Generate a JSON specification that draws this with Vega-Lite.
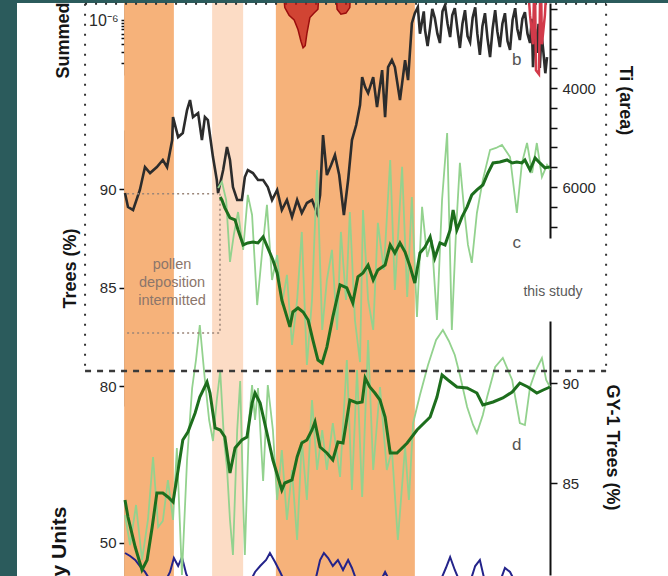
{
  "$schema": "https://vega.github.io/schema/vega-lite/v6.json",
  "width": 651,
  "height": 573,
  "autosize": "none",
  "padding": {"left": 17, "top": 3, "right": 0, "bottom": 0},
  "background": "#2b5b5c",
  "config": {
    "view": {"fill": "white", "stroke": null},
    "font": "Liberation Sans",
    "axis": {"zindex": 1, "grid": false, "domainColor": "#111111", "domainWidth": 2, "tickColor": "#111111", "tickWidth": 1.5, "labelFontSize": 15, "labelColor": "#2a2a2a", "labelOverlap": false, "labelFlush": false, "labelBound": false, "titleFontSize": 18, "titleFontWeight": "bold", "titleColor": "#151515", "titleBaseline": "middle"}
  },
  "datasets": {
    "bands": [
      {"t": -0.2, "t2": 11.5, "zone": "main"},
      {"t": 20.5, "t2": 27.8, "zone": "faint"},
      {"t": 35.5, "t2": 68.2, "zone": "main"}
    ],
    "ti": [
      {"t":0.0,"v":6121},{"t":0.7,"v":6404},{"t":1.9,"v":6464},{"t":3.5,"v":6060},{"t":4.7,"v":5596},{"t":5.9,"v":5717},{"t":7.5,"v":5596},{"t":8.9,"v":5454},{"t":9.9,"v":5596},{"t":11.1,"v":5050},{"t":11.3,"v":4586},{"t":12.5,"v":4990},{"t":13.6,"v":4909},{"t":14.6,"v":4444},{"t":15.3,"v":4242},{"t":16.0,"v":4586},{"t":17.2,"v":4505},{"t":18.1,"v":5050},{"t":18.8,"v":4586},{"t":19.5,"v":4646},{"t":20.7,"v":5394},{"t":21.6,"v":5858},{"t":21.9,"v":6121},{"t":23.1,"v":5656},{"t":24.0,"v":5192},{"t":24.7,"v":5454},{"t":25.4,"v":6000},{"t":26.4,"v":6262},{"t":27.5,"v":6262},{"t":28.2,"v":5798},{"t":28.9,"v":5656},{"t":30.1,"v":5717},{"t":31.3,"v":5858},{"t":32.5,"v":5858},{"t":33.6,"v":6000},{"t":34.6,"v":6262},{"t":35.8,"v":6060},{"t":36.9,"v":6464},{"t":38.1,"v":6262},{"t":39.3,"v":6606},{"t":40.5,"v":6262},{"t":41.6,"v":6525},{"t":42.8,"v":6323},{"t":44.0,"v":6262},{"t":45.2,"v":6525},{"t":45.9,"v":6161},{"t":46.6,"v":4949},{"t":47.5,"v":5757},{"t":48.5,"v":5555},{"t":49.4,"v":5353},{"t":50.4,"v":5757},{"t":51.5,"v":6565},{"t":52.5,"v":5858},{"t":53.4,"v":5050},{"t":54.4,"v":4747},{"t":55.3,"v":4343},{"t":55.8,"v":3778},{"t":56.5,"v":3980},{"t":57.2,"v":4101},{"t":58.4,"v":3778},{"t":59.3,"v":4384},{"t":60.5,"v":3636},{"t":61.2,"v":4586},{"t":61.9,"v":3576},{"t":62.8,"v":3434},{"t":63.5,"v":3576},{"t":64.7,"v":4242},{"t":65.9,"v":3434},{"t":66.6,"v":3838},{"t":67.5,"v":2687},{"t":68.2,"v":2485},
      {"t":68.9,"v":2364},{"t":69.4,"v":2900},{"t":69.9,"v":2650},{"t":70.3,"v":2450},{"t":70.6,"v":2826},{"t":71.2,"v":3150},{"t":71.8,"v":2770},{"t":72.3,"v":2400},{"t":72.9,"v":2585},{"t":73.5,"v":2900},{"t":74.1,"v":3089},{"t":74.7,"v":2450},{"t":75.3,"v":2324},{"t":75.9,"v":2700},{"t":76.5,"v":2968},{"t":77.0,"v":2530},{"t":77.6,"v":2385},{"t":78.2,"v":2800},{"t":78.8,"v":3189},{"t":79.4,"v":2700},{"t":80.0,"v":2426},{"t":80.6,"v":2950},{"t":81.2,"v":3070},{"t":81.8,"v":2580},{"t":82.4,"v":2366},{"t":82.9,"v":2900},{"t":83.5,"v":3330},{"t":84.1,"v":2750},{"t":84.7,"v":2487},{"t":85.3,"v":3000},{"t":85.9,"v":3372},{"t":86.5,"v":2800},{"t":87.1,"v":2426},{"t":87.6,"v":2850},{"t":88.2,"v":3170},{"t":88.8,"v":2700},{"t":89.4,"v":2487},{"t":90.0,"v":3050},{"t":90.6,"v":3230},{"t":91.2,"v":2620},{"t":91.8,"v":2385},{"t":92.3,"v":2800},{"t":92.9,"v":3028},{"t":93.5,"v":2600},{"t":94.1,"v":2466},{"t":94.7,"v":2900},{"t":95.3,"v":3089},{"t":95.7,"v":2600},{"t":96.0,"v":3576},{"t":96.5,"v":2800},{"t":96.9,"v":3291},{"t":97.3,"v":2700},{"t":97.6,"v":3595},{"t":98.0,"v":2900},{"t":98.4,"v":3230},{"t":98.9,"v":3700},{"t":99.3,"v":3374}
    ],
    "treesC": [
      {"t":22.4,"v":89.60},{"t":22.8,"v":89.45},{"t":23.5,"v":89.05},{"t":24.7,"v":88.54},{"t":25.9,"v":88.44},{"t":26.6,"v":87.93},{"t":27.8,"v":87.17},{"t":28.9,"v":87.27},{"t":30.1,"v":87.32},{"t":31.3,"v":87.27},{"t":32.5,"v":87.58},{"t":33.6,"v":87.02},{"t":34.8,"v":86.41},{"t":35.8,"v":85.75},{"t":36.9,"v":84.38},{"t":38.1,"v":83.52},{"t":38.8,"v":83.01},{"t":39.5,"v":83.77},{"t":40.7,"v":83.97},{"t":41.9,"v":83.77},{"t":43.1,"v":83.36},{"t":44.2,"v":82.35},{"t":45.4,"v":81.33},{"t":46.4,"v":81.18},{"t":47.5,"v":81.99},{"t":48.9,"v":83.52},{"t":50.6,"v":85.14},{"t":52.2,"v":84.99},{"t":53.6,"v":84.23},{"t":54.8,"v":85.55},{"t":56.0,"v":85.75},{"t":57.2,"v":86.15},{"t":58.4,"v":85.39},{"t":59.5,"v":85.90},{"t":61.2,"v":86.15},{"t":62.4,"v":87.17},{"t":63.5,"v":86.76},{"t":64.7,"v":87.27},{"t":65.9,"v":86.81},{"t":67.1,"v":86.05},{"t":68.2,"v":85.24},{"t":69.4,"v":86.76},{"t":70.6,"v":87.07},{"t":71.8,"v":87.58},{"t":72.9,"v":86.51},{"t":74.1,"v":87.27},{"t":75.3,"v":87.17},{"t":76.5,"v":87.93},{"t":77.2,"v":88.94},{"t":78.1,"v":87.93},{"t":79.3,"v":88.59},{"t":80.5,"v":89.10},{"t":81.6,"v":89.71},{"t":82.8,"v":89.96},{"t":84.2,"v":90.21},{"t":85.4,"v":90.82},{"t":86.6,"v":91.33},{"t":88.2,"v":91.38},{"t":89.9,"v":91.48},{"t":91.1,"v":91.33},{"t":92.2,"v":91.38},{"t":93.4,"v":91.33},{"t":94.1,"v":91.48},{"t":95.3,"v":90.97},{"t":96.5,"v":91.58},{"t":97.6,"v":91.33},{"t":98.8,"v":91.08},{"t":100.0,"v":91.13}
    ],
    "treesCraw": [
      {"t":21.9,"v":90.06},{"t":22.8,"v":90.37},{"t":23.8,"v":89.45},{"t":24.7,"v":86.31},{"t":25.6,"v":87.68},{"t":26.6,"v":88.84},{"t":27.8,"v":86.92},{"t":28.9,"v":89.71},{"t":29.9,"v":88.69},{"t":31.1,"v":84.12},{"t":32.2,"v":86.66},{"t":33.4,"v":89.20},{"t":34.6,"v":85.39},{"t":35.8,"v":86.66},{"t":36.9,"v":84.12},{"t":38.1,"v":85.65},{"t":39.3,"v":82.10},{"t":40.5,"v":84.38},{"t":41.6,"v":87.83},{"t":42.8,"v":81.08},{"t":44.0,"v":84.38},{"t":45.2,"v":90.97},{"t":46.4,"v":82.86},{"t":47.5,"v":85.39},{"t":48.7,"v":86.92},{"t":49.9,"v":82.86},{"t":50.8,"v":87.83},{"t":52.0,"v":84.38},{"t":52.9,"v":88.84},{"t":54.1,"v":83.36},{"t":55.3,"v":81.23},{"t":56.0,"v":88.94},{"t":57.2,"v":84.38},{"t":58.4,"v":82.86},{"t":59.5,"v":88.29},{"t":60.9,"v":85.90},{"t":62.4,"v":91.48},{"t":63.5,"v":84.89},{"t":65.2,"v":91.13},{"t":66.4,"v":84.53},{"t":67.5,"v":89.60},{"t":68.7,"v":83.52},{"t":69.9,"v":89.10},{"t":71.1,"v":86.56},{"t":72.2,"v":87.42},{"t":73.4,"v":83.36},{"t":74.6,"v":89.45},{"t":75.8,"v":92.85},{"t":76.9,"v":82.86},{"t":77.9,"v":87.93},{"t":78.8,"v":91.33},{"t":79.8,"v":88.94},{"t":80.7,"v":87.17},{"t":81.6,"v":86.26},{"t":82.8,"v":88.79},{"t":84.2,"v":90.47},{"t":85.9,"v":91.99},{"t":87.3,"v":92.09},{"t":88.7,"v":92.24},{"t":90.6,"v":91.63},{"t":92.2,"v":88.79},{"t":93.4,"v":91.33},{"t":94.6,"v":92.34},{"t":95.8,"v":90.82},{"t":96.9,"v":92.34},{"t":98.1,"v":90.62},{"t":99.3,"v":91.23},{"t":100.0,"v":90.97}
    ],
    "gy1": [
      {"t":0.0,"v":84.15},{"t":0.7,"v":83.30},{"t":2.4,"v":81.80},{"t":4.0,"v":80.65},{"t":5.2,"v":81.15},{"t":6.4,"v":82.80},{"t":7.5,"v":84.50},{"t":8.9,"v":84.50},{"t":10.1,"v":84.30},{"t":11.3,"v":84.05},{"t":12.5,"v":85.65},{"t":13.6,"v":87.15},{"t":14.8,"v":87.55},{"t":16.5,"v":88.50},{"t":17.6,"v":89.30},{"t":19.3,"v":90.05},{"t":20.0,"v":89.50},{"t":21.2,"v":87.75},{"t":22.4,"v":87.65},{"t":23.5,"v":87.30},{"t":24.7,"v":85.50},{"t":25.9,"v":86.75},{"t":27.5,"v":87.15},{"t":28.7,"v":87.30},{"t":29.9,"v":89.00},{"t":30.6,"v":89.50},{"t":31.8,"v":89.00},{"t":33.4,"v":87.50},{"t":34.8,"v":86.15},{"t":36.9,"v":84.65},{"t":37.6,"v":85.00},{"t":39.3,"v":85.15},{"t":40.5,"v":86.30},{"t":41.6,"v":87.00},{"t":42.8,"v":87.15},{"t":44.0,"v":87.65},{"t":44.7,"v":88.05},{"t":45.9,"v":86.80},{"t":47.5,"v":86.50},{"t":48.9,"v":86.15},{"t":50.1,"v":87.05},{"t":51.3,"v":87.00},{"t":52.9,"v":89.15},{"t":54.6,"v":89.00},{"t":55.8,"v":89.05},{"t":56.5,"v":90.25},{"t":57.6,"v":89.80},{"t":58.8,"v":89.50},{"t":60.0,"v":89.15},{"t":61.2,"v":88.30},{"t":62.4,"v":86.50},{"t":64.0,"v":86.50},{"t":66.4,"v":87.00},{"t":68.7,"v":87.65},{"t":71.8,"v":88.30},{"t":73.4,"v":89.30},{"t":74.6,"v":90.40},{"t":76.0,"v":90.15},{"t":78.1,"v":89.80},{"t":80.5,"v":89.75},{"t":82.8,"v":89.50},{"t":84.2,"v":88.90},{"t":86.6,"v":89.05},{"t":88.9,"v":89.25},{"t":91.1,"v":89.55},{"t":92.9,"v":90.00},{"t":94.8,"v":89.80},{"t":96.9,"v":89.50},{"t":98.4,"v":89.65},{"t":100.0,"v":89.80}
    ],
    "gy1raw": [
      {"t":0.0,"v":83.40},{"t":1.2,"v":81.90},{"t":2.6,"v":83.90},{"t":4.0,"v":81.15},{"t":5.4,"v":83.15},{"t":6.6,"v":86.30},{"t":7.8,"v":82.80},{"t":8.9,"v":83.10},{"t":10.1,"v":85.15},{"t":11.3,"v":83.15},{"t":12.2,"v":86.75},{"t":13.4,"v":80.40},{"t":14.6,"v":86.15},{"t":15.8,"v":89.75},{"t":16.7,"v":91.15},{"t":17.6,"v":92.90},{"t":18.8,"v":90.15},{"t":19.8,"v":88.15},{"t":20.7,"v":87.10},{"t":21.6,"v":89.15},{"t":22.4,"v":90.60},{"t":23.3,"v":87.15},{"t":24.0,"v":85.75},{"t":24.7,"v":83.15},{"t":25.4,"v":81.40},{"t":26.4,"v":87.65},{"t":27.1,"v":90.10},{"t":27.8,"v":84.15},{"t":28.2,"v":81.40},{"t":29.2,"v":88.15},{"t":29.9,"v":89.90},{"t":30.6,"v":88.15},{"t":31.3,"v":89.75},{"t":32.5,"v":85.10},{"t":33.6,"v":89.90},{"t":34.8,"v":87.65},{"t":35.8,"v":84.15},{"t":36.9,"v":86.65},{"t":38.1,"v":83.15},{"t":39.3,"v":85.65},{"t":40.5,"v":82.15},{"t":41.6,"v":87.15},{"t":42.8,"v":84.15},{"t":44.0,"v":89.15},{"t":45.2,"v":85.65},{"t":46.4,"v":87.65},{"t":47.5,"v":85.65},{"t":48.9,"v":88.00},{"t":50.6,"v":85.30},{"t":52.2,"v":91.15},{"t":53.4,"v":84.65},{"t":54.6,"v":90.65},{"t":55.8,"v":84.30},{"t":57.2,"v":92.15},{"t":58.4,"v":85.65},{"t":60.0,"v":89.80},{"t":61.6,"v":85.65},{"t":62.8,"v":86.65},{"t":64.2,"v":82.15},{"t":65.9,"v":86.80},{"t":66.8,"v":84.15},{"t":67.8,"v":88.00},{"t":69.4,"v":89.40},{"t":71.3,"v":90.90},{"t":73.2,"v":92.15},{"t":74.8,"v":92.65},{"t":76.2,"v":92.10},{"t":77.6,"v":91.40},{"t":78.8,"v":90.40},{"t":80.5,"v":88.80},{"t":81.9,"v":87.90},{"t":82.8,"v":87.50},{"t":84.2,"v":88.40},{"t":85.2,"v":89.30},{"t":87.1,"v":90.80},{"t":88.9,"v":91.25},{"t":91.1,"v":90.15},{"t":92.9,"v":88.00},{"t":94.1,"v":87.90},{"t":95.3,"v":89.80},{"t":96.7,"v":90.65},{"t":98.1,"v":91.25},{"t":99.1,"v":90.15},{"t":100.0,"v":89.80}
    ],
    "summed": [
      {"t":36.5,"v":1e-5},{"t":37.6,"v":1.6e-6},{"t":38.6,"v":1.2e-6},{"t":39.8,"v":1.0e-6},{"t":40.7,"v":7e-7},{"t":41.4,"v":4.5e-7},{"t":41.9,"v":3.5e-7},{"t":42.4,"v":3.8e-7},{"t":42.8,"v":6e-7},{"t":43.5,"v":1.1e-6},{"t":44.5,"v":1.3e-6},{"t":45.4,"v":1.5e-6},{"t":46.1,"v":1e-5},{"t":49.2,"v":1e-5},{"t":49.9,"v":1.5e-6},{"t":50.8,"v":1.25e-6},{"t":52.0,"v":1.3e-6},{"t":52.9,"v":1.6e-6},{"t":53.4,"v":1e-5}
    ],
    "summed2": [
      {"t":94.4,"v":1e-5},{"t":95.3,"v":1.2e-6},{"t":96.0,"v":4e-7},{"t":96.4,"v":1e-5},{"t":96.7,"v":1.5e-7},{"t":97.4,"v":1.3e-7},{"t":97.8,"v":1e-5},{"t":98.1,"v":4e-7},{"t":98.8,"v":1.2e-6},{"t":99.5,"v":1e-5}
    ],
    "units": [
      {"t":0.0,"v":48.48},{"t":1.2,"v":48.03},{"t":2.4,"v":47.42},{"t":3.5,"v":46.51},{"t":4.7,"v":45.61},{"t":5.9,"v":44.39},{"t":9.4,"v":44.09},{"t":10.6,"v":45.61},{"t":11.5,"v":47.72},{"t":12.5,"v":46.51},{"t":13.4,"v":47.87},{"t":14.4,"v":45.30},{"t":15.3,"v":44.09},{"t":29.4,"v":44.09},{"t":30.6,"v":45.61},{"t":31.8,"v":46.51},{"t":33.2,"v":47.42},{"t":34.1,"v":48.48},{"t":35.3,"v":47.12},{"t":36.5,"v":45.61},{"t":37.6,"v":44.09},{"t":44.7,"v":44.09},{"t":45.9,"v":47.42},{"t":46.8,"v":48.48},{"t":47.8,"v":47.72},{"t":48.9,"v":46.51},{"t":50.1,"v":47.42},{"t":51.3,"v":45.91},{"t":52.5,"v":47.42},{"t":53.4,"v":46.21},{"t":54.6,"v":44.09},{"t":60.0,"v":44.09},{"t":61.2,"v":45.61},{"t":62.4,"v":44.09},{"t":74.1,"v":44.09},{"t":75.5,"v":46.21},{"t":76.5,"v":47.87},{"t":77.6,"v":45.91},{"t":78.8,"v":44.09},{"t":81.2,"v":44.09},{"t":82.4,"v":46.51},{"t":83.5,"v":47.42},{"t":84.7,"v":44.09},{"t":88.2,"v":44.09},{"t":89.4,"v":46.21},{"t":90.6,"v":45.61},{"t":91.8,"v":44.09},{"t":100.0,"v":44.09}
    ],
    "frameDot": [
      {"t": -9.4, "t2": 113.2, "v": 99.4, "v2": 99.4},
      {"t": -9.4, "t2": -9.4, "v": 99.4, "v2": 80.78},
      {"t": 113.2, "t2": 113.2, "v": 99.4, "v2": 80.78}
    ],
    "frameDash": [
      {"t": -9.4, "t2": 113.2, "v": 80.78, "v2": 80.78}
    ],
    "pollenBox": [
      {"t": 0.5, "t2": 21.9, "v": 89.76, "v2": 89.76},
      {"t": 22.35, "t2": 22.35, "v": 89.76, "v2": 82.70},
      {"t": 0.5, "t2": 22.35, "v": 82.70, "v2": 82.70}
    ]
  },
  "resolve": {"scale": {"y": "independent"}},
  "layer": [
    {
      "data": {"name": "bands"},
      "mark": {"type": "rect"},
      "encoding": {
        "x": {"field": "t", "type": "quantitative", "scale": {"domain": [0, 100], "range": [108, 533], "nice": false, "zero": false}, "axis": null},
        "x2": {"field": "t2"},
        "color": {"field": "zone", "type": "nominal", "scale": {"domain": ["main", "faint"], "range": ["#f6b27a", "#fcdcc5"]}, "legend": null}
      }
    },
    {
      "encoding": {
        "x": {"field": "t", "type": "quantitative", "scale": {"domain": [0, 100], "range": [108, 533], "nice": false, "zero": false}, "axis": null},
        "y": {"field": "v", "type": "quantitative", "scale": {"domain": [45, 56.5], "range": [573, 497], "nice": false, "zero": false},
              "axis": {"orient": "left", "offset": -108, "values": [50], "tickSize": 6, "labelPadding": 3, "title": "Probability Units", "titleFontSize": 21, "titleAngle": -90, "titleAlign": "right", "titleX": -66, "titleY": 503}}
      },
      "layer": [
        {"data": {"name": "units"}, "mark": {"type": "line", "color": "#23238a", "strokeWidth": 2, "clip": true}}
      ]
    },
    {
      "encoding": {
        "x": {"field": "t", "type": "quantitative", "scale": {"domain": [0, 100], "range": [108, 533], "nice": false, "zero": false}, "axis": null},
        "y": {"field": "v", "type": "quantitative", "scale": {"domain": [80.4, 93.1], "range": [572, 318], "nice": false, "zero": false},
              "axis": {"orient": "right", "offset": -118, "values": [85, 90], "tickSize": 7, "labelPadding": 5, "title": "GY-1 Trees (%)", "titleX": 61, "titleY": 444}}
      },
      "layer": [
        {"data": {"name": "gy1raw"}, "mark": {"type": "line", "color": "#93d28e", "strokeWidth": 1.8, "clip": true}},
        {"data": {"name": "gy1"}, "mark": {"type": "line", "color": "#1d6e1d", "strokeWidth": 3, "clip": true}},
        {"data": {"values": [{"t": 92.2, "v": 86.9, "label": "d"}]}, "mark": {"type": "text", "fontSize": 17, "color": "#555555", "baseline": "middle"}, "encoding": {"text": {"field": "label"}}}
      ]
    },
    {
      "encoding": {
        "x": {"field": "t", "type": "quantitative", "scale": {"domain": [0, 100], "range": [108, 533], "nice": false, "zero": false}, "axis": null},
        "y": {"field": "v", "type": "quantitative", "scale": {"domain": [2280, 7030], "range": [0, 235], "nice": false, "zero": false},
              "axis": {"orient": "right", "offset": -118, "values": [2400, 2800, 3200, 3600, 4000, 4400, 4800, 5200, 5600, 6000, 6400, 6800], "format": "d", "labelExpr": "(datum.value == 4000 || datum.value == 6000) ? datum.label : ''", "tickSize": 7, "labelPadding": 5, "title": "Ti (area)", "titleX": 74, "titleY": 97}}
      },
      "layer": [
        {"data": {"name": "ti"}, "mark": {"type": "line", "color": "#2c2c2c", "strokeWidth": 2.6, "clip": true}},
        {"data": {"values": [{"t": 92.2, "v": 3434, "label": "b"}]}, "mark": {"type": "text", "fontSize": 17, "color": "#555555", "baseline": "middle"}, "encoding": {"text": {"field": "label"}}}
      ]
    },
    {
      "encoding": {
        "x": {"field": "t", "type": "quantitative", "scale": {"domain": [0, 100], "range": [108, 533], "nice": false, "zero": false}, "axis": null},
        "y": {"field": "v", "type": "quantitative", "scale": {"domain": [79, 93], "range": [403, 127], "nice": false, "zero": false},
              "axis": {"orient": "left", "offset": -108, "values": [80, 85, 90], "tickSize": 6, "labelPadding": 3, "title": "Trees (%)", "titleX": -55, "titleY": 265}}
      },
      "layer": [
        {"data": {"name": "frameDot"}, "mark": {"type": "rule", "color": "#333333", "strokeWidth": 2, "strokeDash": [2, 8]}, "encoding": {"x2": {"field": "t2"}, "y2": {"field": "v2"}}},
        {"data": {"name": "frameDash"}, "mark": {"type": "rule", "color": "#3a3a3a", "strokeWidth": 2.5, "strokeDash": [6, 6]}, "encoding": {"x2": {"field": "t2"}, "y2": {"field": "v2"}}},
        {"data": {"name": "pollenBox"}, "mark": {"type": "rule", "color": "#9a8578", "strokeWidth": 1.5, "strokeDash": [2, 3]}, "encoding": {"x2": {"field": "t2"}, "y2": {"field": "v2"}}},
        {"data": {"name": "treesCraw"}, "mark": {"type": "line", "color": "#93d28e", "strokeWidth": 1.8, "clip": true}},
        {"data": {"name": "treesC"}, "mark": {"type": "line", "color": "#1d6e1d", "strokeWidth": 3, "clip": true}},
        {"data": {"values": [{"t": 11.06, "v": 86.15, "label": "pollen\ndeposition\nintermitted"}]}, "mark": {"type": "text", "fontSize": 14.5, "color": "#8c766b", "lineBreak": "\n", "lineHeight": 18, "baseline": "middle"}, "encoding": {"text": {"field": "label"}}},
        {"data": {"values": [{"t": 92.2, "v": 87.27, "label": "c"}]}, "mark": {"type": "text", "fontSize": 17, "color": "#555555", "baseline": "middle"}, "encoding": {"text": {"field": "label"}}},
        {"data": {"values": [{"t": 100.7, "v": 84.78, "label": "this study"}]}, "mark": {"type": "text", "fontSize": 14, "color": "#5a5a5a", "baseline": "middle"}, "encoding": {"text": {"field": "label"}}}
      ]
    },
    {
      "encoding": {
        "x": {"field": "t", "type": "quantitative", "scale": {"domain": [0, 100], "range": [108, 533], "nice": false, "zero": false}, "axis": null},
        "y": {"field": "v", "type": "quantitative", "scale": {"type": "log", "domain": [1.26e-7, 1.9e-6], "range": [72, 0], "nice": false},
              "axis": {"orient": "left", "offset": -108, "values": [2e-7, 3e-7, 4e-7, 5e-7, 6e-7, 7e-7, 8e-7, 9e-7, 1e-6], "labelExpr": "datum.value > 9.5e-7 ? '10⁻⁶' : ''", "labelFontSize": 16, "tickSize": 4, "labelPadding": 3, "title": "Summed", "titleAngle": -90, "titleAlign": "left", "titleX": -62, "titleY": 75}}
      },
      "layer": [
        {"data": {"name": "summed"}, "mark": {"type": "area", "color": "#c21616", "clip": true, "line": {"color": "#9a0d0d", "strokeWidth": 1.5}}, "encoding": {"y2": {"datum": 1e-5}}},
        {"data": {"name": "summed2"}, "mark": {"type": "line", "color": "#d23a4a", "strokeWidth": 2.5, "clip": true}}
      ]
    }
  ]
}
